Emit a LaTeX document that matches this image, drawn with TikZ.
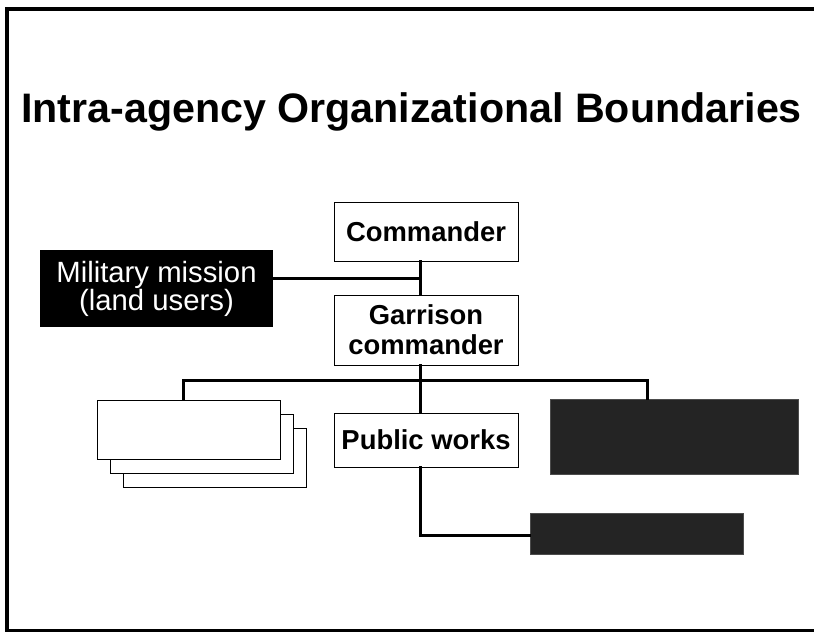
\documentclass[tikz,border=0pt]{standalone}
\usepackage{fontspec}
\setmainfont{Liberation Sans}
\begin{document}
\begin{tikzpicture}[x=1pt,y=-1pt,
  box/.style={draw=black,line width=0.9pt,fill=white,inner sep=0pt,align=center,font=\fontsize{27.4}{30}\selectfont\bfseries},
  darkbox/.style={draw=black!70,line width=0.8pt,fill=black!86,inner sep=0pt},
  blackbox/.style={fill=black,inner sep=0pt,align=center,text=white,font=\fontsize{29.3}{28}\selectfont},
  plainbox/.style={draw=black,line width=0.9pt,fill=white,inner sep=0pt},
  conn/.style={line width=3pt,line cap=rect}]
\useasboundingbox (0,0) rectangle (814,634);
% frame
\draw[line width=3.8pt] (814,9) -- (7,9) -- (7,630.5) -- (814,630.5);
% title
\node[anchor=base west,inner sep=0pt,font=\fontsize{41.2}{44}\selectfont\bfseries] (title) at (21,122) {Intra-agency Organizational Boundaries};
% nodes
\node[box,minimum width=184pt,minimum height=59pt] (cmd) at (426,232) {Commander};
\node[box,minimum width=184pt,minimum height=70pt] (gar) at (426,330) {Garrison\\commander};
\node[box,minimum width=184pt,minimum height=54pt] (pw) at (426,440) {Public works};
\node[blackbox,minimum width=233pt,minimum height=77pt] (mil) at (156.5,288.5) {Military mission\\(land users)};
\node[plainbox,minimum width=183pt,minimum height=59pt] (st3) at (214.5,457.5) {};
\node[plainbox,minimum width=183pt,minimum height=59pt] (st2) at (201.5,443.5) {};
\node[plainbox,minimum width=183pt,minimum height=59pt] (st1) at (188.5,429.5) {};
\node[darkbox,minimum width=248pt,minimum height=75pt] (dk1) at (674,436.5) {};
\node[darkbox,minimum width=213pt,minimum height=41pt] (dk2) at (636.5,533.5) {};
% coordinates
\coordinate (trunk) at (420,0);
\coordinate (mj) at (420,278);
\coordinate (bus) at (420,380);
\coordinate (busL) at (183,380);
\coordinate (busR) at (647,380);
\coordinate (pwj) at (420,535);
% connectors
\draw[conn] (cmd.south -| trunk) -- (gar.north -| trunk);
\draw[conn] (mil.east |- mj) -- (mj);
\draw[conn] (gar.south -| trunk) -- (pw.north -| trunk);
\draw[conn] (busL) -- (busR);
\draw[conn] (busL) -- (st1.north -| busL);
\draw[conn] (busR) -- (dk1.north -| busR);
\draw[conn] (pw.south -| trunk) -- (pwj) -- (dk2.west |- pwj);
\end{tikzpicture}
\end{document}
